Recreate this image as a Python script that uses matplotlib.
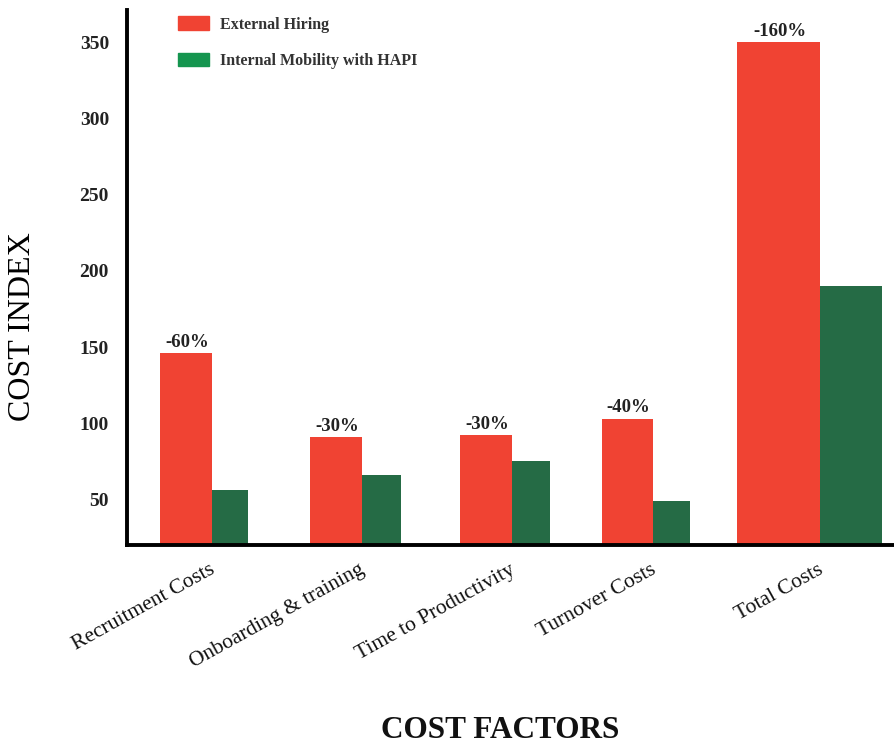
import matplotlib
matplotlib.use("Agg")
import matplotlib.pyplot as plt
from matplotlib.patches import Patch

categories = ["Recruitment Costs", "Onboarding & training", "Time to Productivity",
              "Turnover Costs", "Total Costs"]
external = [146, 91, 92, 103, 350]
internal = [56, 66, 75, 49, 190]
labels = ["-60%", "-30%", "-30%", "-40%", "-160%"]
yticks = [50, 100, 150, 200, 250, 300, 350]
series_names = ["External Hiring", "Internal Mobility with HAPI"]

# layout (pixel-like x units)
group_left = [160, 310, 460, 602, 737]
red_w = [52, 52, 52, 51, 83]
green_w = [36, 39, 38, 37, 62]

RED = "#F04333"
GREEN = "#256B45"
GREEN_LEG = "#15954F"

plt.rcParams['font.family'] = ['Liberation Serif', 'DejaVu Serif']

W, H = 895, 747
fig = plt.figure(figsize=(W / 100, H / 100), dpi=100)
ax = fig.add_axes([127 / W, (H - 545) / H, (W - 127) / W, (545 - 10) / H])

red_x = [l + w / 2 for l, w in zip(group_left, red_w)]
green_x = [l + rw + gw / 2 for l, rw, gw in zip(group_left, red_w, green_w)]
ax.bar(red_x, external, width=red_w, color=RED, bottom=0)
ax.bar(green_x, internal, width=green_w, color=GREEN)

for x, v, t in zip(red_x, external, labels):
    ax.text(x + 1, v + 1.5, t, ha='center', va='bottom', fontsize=13.5,
            fontweight='bold', color='#222222')

ax.set_xlim(127, 895)
ax.set_ylim(20.2, 371)
ax.set_yticks(yticks)
ax.set_yticklabels([str(t) for t in yticks], fontsize=14, fontweight='bold', color='#222222')
ax.tick_params(axis='y', length=0, pad=13)

tick_x = [l + rw - 3 for l, rw in zip(group_left, red_w)]
ax.set_xticks(tick_x)
ax.set_xticklabels(categories, rotation=29, ha='right', va='top',
                   rotation_mode='anchor', fontsize=15.5, color='#111111')
ax.tick_params(axis='x', length=0, pad=11)

for s in ['top', 'right']:
    ax.spines[s].set_visible(False)
ax.spines['left'].set_linewidth(2.8)
ax.spines['bottom'].set_linewidth(2.8)

fig.text(23 / W, 1 - 327 / H, "COST INDEX", rotation=90, ha='center', va='center',
         fontsize=23, color='#000000')
fig.text(500 / W, 1 - 731 / H, "COST FACTORS", ha='center', va='center',
         fontsize=22.5, fontweight='bold', color='#111111')

handles = [Patch(color=RED), Patch(color=GREEN_LEG)]
leg = ax.legend(handles, series_names, loc='upper left',
                bbox_to_anchor=((164 - 127) / (W - 127), 1.015),
                frameon=False, fontsize=11.5, handlelength=1.9, handleheight=0.95,
                labelspacing=1.25, handletextpad=0.7)
for t in leg.get_texts():
    t.set_color('#333333')
    t.set_fontweight('bold')

fig.savefig("out.png", dpi=100)
